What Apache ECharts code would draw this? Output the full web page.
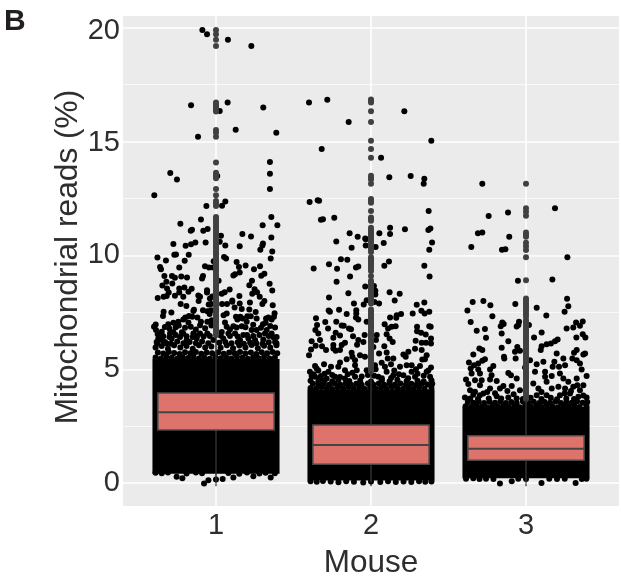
<!DOCTYPE html>
<html>
<head>
<meta charset="utf-8">
<style>
  html, body { margin: 0; padding: 0; background: #fff; }
  #chart { width: 621px; height: 582px; }
</style>
</head>
<body>
<div id="chart"></div>
<script src="https://cdn.jsdelivr.net/npm/echarts@6/dist/echarts.min.js"></script>
<script>
const mice = [1, 2, 3];
const majorTicks = [0, 5, 10, 15, 20];
const minorTicks = [2.5, 7.5, 12.5, 17.5];

// box stats
const whiskerLow = [0.02, 0.03, 0.02];
const q1 = [2.33, 0.83, 1.01];
const median = [3.11, 1.68, 1.51];
const q3 = [3.96, 2.55, 2.08];
const whiskerHigh = [6.42, 4.9, 3.68];

// range where the jittered points overlap into a solid block
const denseLow = [0.42, 0.12, 0.22];
const denseHigh = [5.45, 4.12, 3.36];
const jitterWidth = 0.41;

// [jitter offset, value] for the points that can be told apart
const mouse1Points = [
  [-.088,19.89],[-.058,19.7],[.077,19.46],[.228,19.18],[-.161,16.58],[.075,16.71],[.024,16.33],[.305,16.48],
  [.127,15.51],[.389,15.38],[-.116,15.2],[.348,14.09],[-.295,13.61],[-.252,13.33],[.348,13.58],[.008,13.48],[.348,12.91],
  [-.398,12.64],[-.062,12.16],[.06,12.36],[.039,12.17],[-.097,11.57],[-.23,11.38],[.357,11.68],[.301,11.32],[.396,11.32],
  [-.155,11.12],[-.163,11.08],[-.082,11.08],[-.054,11.15],[.032,10.86],[.17,10.93],[.226,10.83],[.357,10.78],
  [-.275,10.5],[-.196,10.42],[-.161,10.49],[-.133,10.56],[-.067,10.56],[.024,10.59],[.06,10.43],[.153,10.4],[.303,10.52],
  [.299,10.43],[.286,10.24],[.363,10.17],[-.258,10.04],[-.269,10.02],[-.176,10.02],[-.378,9.9],[-.323,9.77],[-.202,9.76],
  [.052,9.93],[.065,9.86],[.353,9.86],[-.015,9.74],[.133,9.71],[-.361,9.49],[-.355,9.39],[-.237,9.47],[-.071,9.52],
  [-.045,9.47],[-.019,9.47],[.148,9.49],[.191,9.55],[.284,9.52],[.245,9.39],[-.333,9.09],[-.284,9.09],[-.265,9.01],
  [-.224,9.07],[-.187,9.03],[-.084,9.09],[-.09,8.98],[.112,9.11],[.123,9.17],[.153,9.25],[.312,9.19],[.292,9.1],
  [.232,8.88],[.215,8.69],[-.32,8.84],[-.346,8.68],[.017,8.88],[-.282,8.76],[.346,8.75],[-.316,8.54],[-.237,8.54],
  [-.204,8.59],[-.157,8.53],[-.178,8.4],[-.058,8.47],[-.058,8.37],[.249,8.51],[.265,8.38],[.363,8.46],[-.305,8.37],
  [-.237,8.37],[.088,8.5],[.056,8.38],[.037,8.31],[.234,8.31],[-.265,8.22],[-.376,8.13],[-.338,8.18],[-.318,8.21],
  [-.211,8.18],[-.114,8.24],[-.103,8.18],[-.112,8.0],[-.024,8.19],[-.039,8.1],[.151,8.21],[.282,8.18],[.312,8.0],
  [.299,7.86],[.105,8.02],[.105,7.96],[.219,7.93],[-.228,7.86],[-.191,7.78],[-.047,7.84],[-.032,7.86],[.039,7.86],
  [.071,7.86],[.12,7.71],[.153,7.89],[.366,7.81],[-.142,7.61],[-.146,7.56],[-.084,7.59],[-.056,7.55],[-.032,7.59],
  [.166,7.64],[.215,7.62],[.256,7.51],[-.338,7.52],[-.342,7.34],[-.288,7.49],[.069,7.45],[.049,7.37],[.378,7.46],
  [.374,7.3],[-.174,7.34],[-.198,7.27],[-.211,7.18],[-.153,7.3],[-.12,7.27],[-.041,7.42],[.129,7.3],[.157,7.3],
  [.138,7.18],[.202,7.33],[.224,7.33],[.17,7.23],[.262,7.23],[.338,7.27],[.323,7.23],[.359,7.18],[.32,7.04],[.303,6.98],
  [-.389,6.96],[-.4,6.86],[-.387,6.72],[-.376,6.54],[-.361,6.47],[-.308,6.98],[-.275,7.04],[-.243,7.08],[-.301,6.79],
  [-.275,6.64],[-.297,6.57],[-.178,7.05],[-.163,6.86],[-.103,6.93],[-.097,7.08],[-.056,7.08],[-.028,7.15],[.058,7.05],
  [.069,6.86],[.112,6.89],[.133,6.83],[.166,6.89],[.198,7.08],[.23,6.72],[.262,6.72],[.327,6.72],[.381,6.83],[.359,6.57],
  [.391,6.42],[.316,6.57],[.037,6.64],[.08,6.57],[.123,6.57],[.176,6.5],[-.146,6.57],[-.103,6.57],[-.056,6.57],[-.211,6.57],
  [-.232,6.42],[-.286,6.35],[-.351,6.28],[-.372,6.35],[-.383,6.2],[-.318,6.13],[-.189,6.28],[-.125,6.35],[-.017,6.28],
  [.047,6.35],[.155,6.28],[.209,6.35],[.252,6.28],[.305,6.31],[.381,6.2],
  [-.39,5.95],[-.35,6.02],[-.31,5.9],[-.27,6.05],[-.23,5.95],[-.19,6.02],[-.15,5.9],[-.11,6.05],[-.07,5.96],[-.03,6.0],
  [.03,5.94],[.07,6.05],[.11,5.92],[.15,6.04],[.19,5.96],[.23,6.06],[.27,5.92],[.31,6.03],[.35,5.95],[.39,6.05],
  [-.254,.28],[-.217,.22],[-.077,-.01],[-.049,.13],[0,.16],[.043,.19],[.112,.25],[.241,.31],[.353,.25],
  [-.39,.46],[-.35,.44],[-.31,.47],[-.19,.43],[-.13,.47],[-.09,.44],[.08,.45],[.15,.42],[.2,.47],[.28,.43],[.32,.46],[.38,.44]
];
const mouse1Crowded = [
  [-.39,5.52],[-.355,5.47],[-.32,5.55],[-.285,5.5],[-.25,5.46],[-.215,5.53],[-.18,5.49],[-.145,5.55],[-.11,5.47],[-.075,5.52],
  [-.04,5.46],[-.005,5.54],[.03,5.48],[.065,5.53],[.1,5.47],[.135,5.55],[.17,5.5],[.205,5.46],[.24,5.53],[.275,5.48],[.31,5.54],
  [.345,5.47],[.38,5.52],
  [-.375,5.74],[-.34,5.69],[-.305,5.76],[-.27,5.71],[-.235,5.67],[-.2,5.75],[-.165,5.7],[-.13,5.76],[-.095,5.68],[-.06,5.74],
  [-.025,5.7],[.015,5.75],[.05,5.68],[.085,5.73],[.12,5.7],[.155,5.76],[.19,5.69],[.225,5.74],[.26,5.67],[.295,5.75],[.33,5.7],
  [.365,5.76],[.395,5.7],
  [-.38,6.12],[-.33,6.2],[-.29,6.12],[-.25,6.22],[-.21,6.14],[-.17,6.2],[-.13,6.14],[-.09,6.22],[-.05,6.14],[.02,6.16],[.06,6.2],
  [.1,6.14],[.14,6.18],[.18,6.12],[.22,6.16],[.26,6.14],[.3,6.12],[.34,6.18],[.39,6.14],
  [-.34,6.45],[-.3,6.42],[-.26,6.5],[-.22,6.62],[-.19,6.45],[-.15,6.42],[-.12,6.48],[-.08,6.44],[-.04,6.46],[.03,6.48],[.09,6.46],
  [.14,6.44],[.2,6.5],[.24,6.46],[.28,6.5],[.34,6.46],[.37,6.4],
  [-.35,6.65],[-.33,6.85],[-.26,6.84],[-.24,6.92],[-.2,6.82],[-.13,6.74],[-.07,6.8],[-.03,6.92],[.09,6.74],[.19,6.84],[.29,6.82],
  [.35,6.9],[.24,6.95]
];
const mouse2Points = [
  [-.4,16.71],[-.282,16.83],[.215,16.32],[-.144,15.85],[.389,15.03],[-.318,14.66],[.065,14.28],[.118,13.42],[.256,13.48],
  [.344,13.36],[.34,13.14],[-.396,12.34],[-.344,12.42],[-.335,12.39],[.372,11.94],[-.323,11.56],[-.31,11.58],[-.237,11.65],
  [.123,11.21],[.219,11.14],[.37,11.11],[.383,11.18],[-.138,10.97],[-.086,10.81],[-.037,10.74],[.054,10.97],[.123,10.93],
  [-.224,10.61],[-.125,10.33],[-.034,10.7],[-.034,10.43],[.082,10.54],[.03,10.36],[.394,10.56],[.376,10.24],[-.194,9.83],
  [-.153,9.8],[-.271,9.61],[-.37,9.42],[-.219,9.41],[-.097,9.47],[-.082,9.51],[.086,9.54],[.116,9.73],[.344,9.54],[.378,9.07],
  [-.222,8.84],[-.135,9.07],[-.037,8.63],[.019,8.65],[.028,8.44],[.028,8.28],[.12,8.38],[.185,8.31],[-.146,8.34],[-.271,8.15],
  [.153,8.02],[-.11,7.89],[-.028,8.03],[-.047,7.84],[.022,7.95],[.052,7.89],[.295,7.83],[.344,7.93],[-.273,7.58],[-.265,7.52],
  [-.206,7.61],[-.157,7.42],[-.095,7.59],[-.095,7.45],[-.097,7.27],[-.082,7.18],[-.028,7.08],[-.355,7.24],[-.295,7.07],
  [-.224,7.08],[-.189,6.92],[-.176,6.91],[-.348,6.94],[-.359,6.72],[-.34,6.57],[-.277,6.79],[-.142,6.79],[-.129,6.75],
  [-.228,6.6],[-.2,6.48],[-.243,6.38],[-.116,6.45],[-.041,6.5],[-.082,6.28],[-.049,6.2],[-.09,6.07],[.037,6.5],[.032,6.28],
  [.123,7.27],[.166,7.37],[.194,7.42],[.163,7.26],[.269,7.45],[.325,7.57],[.346,7.45],[.376,7.52],[.088,6.98],[.11,6.79],
  [.133,6.86],[.159,6.89],[.101,6.54],[.12,6.35],[.14,6.2],[.297,6.86],[.297,6.67],[.323,6.6],[.353,6.53],[.376,6.89],
  [.385,6.86],[.387,6.35],[.387,6.13],[.288,6.25],[.327,6.16],[.355,6.16],[-.383,6.23],[-.329,6.28],[-.357,6.03],[-.387,5.87],
  [-.4,5.62],[-.316,6.01],[-.29,5.84],[-.243,6.06],[-.243,5.91],[-.168,6.16],[-.189,6.06],[-.2,5.84],[-.228,5.81],[.086,6.01],
  [.015,5.98],[.284,5.9],[.327,5.84],[.241,5.77],[.209,5.65],[.224,5.55],[.359,5.62],[.348,5.44],[.331,5.43],[.052,5.69],
  [.101,5.74],[-.125,5.72],[-.071,5.62],[-.039,5.55],[-.12,5.55],[-.157,5.44],[-.103,5.4],[-.2,5.3],[-.211,5.11],[.108,5.47],
  [.144,5.47],[.069,5.28],[.129,5.22],[-.303,5.22],[-.258,5.11],[-.361,5.14],[-.351,5.03],[-.394,4.89],[-.383,4.7],[-.323,4.7],
  [-.275,4.89],[-.232,4.67],[-.168,4.96],[-.103,5.18],[-.092,4.96],[-.028,4.96],[.026,5.18],[.09,5.11],[.047,4.67],[.101,4.89],
  [.144,4.74],[.187,5.11],[.23,5.18],[.262,5.18],[.316,5.14],[.387,5.08],[.359,4.89],[.262,4.89],[.209,4.74],[.284,4.67],
  [.381,4.67],[-.103,4.67],[-.168,4.59],[-.286,4.59],[-.361,4.67],
  [-.39,4.5],[-.34,4.46],[-.3,4.52],[-.25,4.47],[-.21,4.54],[-.14,4.48],[-.07,4.5],[0,4.46],[.07,4.52],[.12,4.47],[.17,4.54],
  [.23,4.48],[.3,4.5],[.34,4.46],[.39,4.52],
  [-.39,.09],[-.35,.06],[-.31,.1],[-.26,.07],[-.21,.04],[-.16,.09],[-.11,.06],[-.05,.03],[0,.08],[.06,.05],[.11,.09],[.16,.05],
  [.21,.08],[.26,.05],[.31,.09],[.35,.06],[.39,.08]
];
const mouse2Crowded = [
  [-.39,4.18],[-.355,4.14],[-.32,4.22],[-.285,4.17],[-.25,4.13],[-.215,4.21],[-.18,4.16],[-.145,4.22],[-.11,4.14],[-.075,4.19],
  [-.04,4.13],[-.005,4.21],[.03,4.15],[.065,4.2],[.1,4.14],[.135,4.22],[.17,4.17],[.205,4.13],[.24,4.2],[.275,4.15],[.31,4.21],
  [.345,4.14],[.39,4.19],
  [-.375,4.36],[-.34,4.33],[-.305,4.38],[-.27,4.32],[-.235,4.37],[-.2,4.33],[-.165,4.38],[-.13,4.32],[-.095,4.36],[-.06,4.32],
  [-.02,4.38],[.015,4.33],[.05,4.37],[.085,4.32],[.12,4.36],[.155,4.33],[.19,4.38],[.225,4.32],[.26,4.36],[.295,4.33],[.33,4.38],
  [.365,4.33],[.395,4.36],
  [-.37,4.78],[-.33,4.58],[-.3,4.8],[-.25,4.75],[-.2,4.66],[-.15,4.78],[-.06,4.68],[-.02,4.75],[.02,4.72],[.07,4.6],[.13,4.62],
  [.18,4.78],[.24,4.6],[.3,4.8],[.34,4.72],[.37,4.95],[-.34,4.95],[-.12,4.85],[.03,5.0],[.15,4.95],[.29,5.0]
];
const mouse3Points = [
  [-.282,13.14],[.187,12.07],[-.116,11.88],[-.241,11.72],[-.31,10.97],[-.282,11.0],[-.108,10.81],[-.353,10.36],[-.155,10.24],
  [-.133,10.27],[.267,9.92],[-.052,8.88],[.17,8.94],[.265,8.09],[-.344,7.95],[-.275,8.0],[-.23,7.81],[-.069,7.86],[.273,7.77],
  [-.378,7.58],[.069,7.7],[.249,7.52],[-.217,7.33],[.131,7.36],[-.357,7.07],[-.153,7.05],[-.144,6.99],[-.163,6.89],[-.045,7.08],
  [-.049,6.94],[-.06,6.88],[.019,6.94],[.323,7.05],[.366,7.1],[.348,6.91],[.305,6.83],[.262,6.79],[-.265,6.77],[-.318,6.69],
  [-.258,6.38],[-.157,6.57],[-.114,6.23],[-.157,5.94],[-.056,5.98],[-.071,5.77],[-.039,5.81],[-.142,5.55],[-.14,5.47],[-.067,5.47],
  [.052,6.39],[.101,6.61],[.101,6.01],[.095,5.84],[.133,6.1],[.161,6.13],[.187,6.23],[.204,6.31],[.325,6.39],[.366,6.54],[.383,6.39],
  [-.301,5.91],[-.282,5.84],[-.34,5.65],[-.265,5.44],[-.282,5.37],[-.308,5.25],[-.368,5.3],[-.335,5.18],[-.357,5.03],[-.308,4.99],
  [-.211,5.14],[-.232,4.99],[-.351,4.81],[-.222,4.74],[-.297,4.81],[-.387,4.55],[-.372,4.35],[-.329,4.52],[-.286,4.52],[-.297,4.3],
  [-.232,4.55],[-.189,4.49],[-.146,4.26],[-.114,4.84],[-.097,4.74],[-.06,4.59],[-.006,5.08],[.026,5.4],[.069,5.22],[.112,5.33],
  [.058,4.89],[.123,4.89],[.123,4.67],[.133,4.45],[.166,4.7],[.198,5.69],[.241,5.47],[.252,5.18],[.213,5.11],[.183,5.33],[.172,5.11],
  [.219,4.81],[.241,4.59],[.273,4.45],[.327,5.84],[.31,5.72],[.299,5.47],[.327,5.4],[.37,5.65],[.381,5.69],[.348,5.25],[.359,4.99],
  [.391,4.7],[.327,4.59],[.37,4.3],[.331,4.3],[-.361,4.08],[-.329,4.01],[-.275,3.94],[-.232,4.16],[-.168,4.16],[-.092,4.26],
  [-.039,4.08],[.047,4.38],[.08,4.16],[.166,4.16],[.209,4.23],[.252,4.16],[.305,4.23],[.348,4.08],[.391,3.76],[-.394,3.76],
  [-.297,3.86],[-.189,3.82],[-.114,3.76],[-.06,3.72],[.069,3.86],[.133,3.86],[.219,3.86],[.284,3.94],[.338,3.79],
  [-.387,.2],[-.34,.22],[-.3,.18],[-.258,.2],[-.21,.18],[-.168,-.01],[-.092,.09],[-.05,.2],[0,.18],[.1,.01],[.15,.2],[.2,.18],
  [.25,.2],[.32,.01],[.36,.19],[.39,.2]
];
const mouse3Crowded = [
  [-.39,3.38],[-.355,3.34],[-.32,3.42],[-.285,3.37],[-.25,3.33],[-.215,3.41],[-.18,3.36],[-.145,3.42],[-.11,3.34],[-.075,3.39],
  [-.04,3.33],[-.005,3.41],[.03,3.35],[.065,3.4],[.1,3.34],[.135,3.42],[.17,3.37],[.205,3.33],[.24,3.4],[.275,3.35],[.31,3.41],
  [.345,3.34],[.39,3.39],
  [-.375,3.56],[-.34,3.53],[-.305,3.58],[-.27,3.52],[-.235,3.57],[-.2,3.53],[-.165,3.58],[-.13,3.52],[-.095,3.56],[-.06,3.52],
  [-.02,3.58],[.015,3.53],[.05,3.57],[.085,3.52],[.12,3.56],[.155,3.53],[.19,3.58],[.225,3.52],[.26,3.56],[.295,3.53],[.33,3.58],
  [.365,3.53],[.395,3.56],
  [-.36,3.72],[-.31,3.7],[-.24,3.72],[-.2,3.95],[-.16,3.72],[-.08,3.9],[-.02,3.7],[.03,3.75],[.1,3.7],[.16,3.75],[.2,3.68],[.26,3.72],
  [.31,3.7],[.37,3.85],[-.34,3.88],[-.25,4.0],[.1,4.0],[.25,3.95],[-.12,4.05],[.29,4.05]
];

// outliers of each box, all drawn on the centre line
const outliers1 = [
  19.89,19.7,19.46,19.18,16.71,16.62,16.55,16.47,16.38,16.31,15.5,15.38,15.2,14.07,13.62,13.55,13.48,13.38,12.91,12.64,12.38,12.27,12.16,
  11.68,11.6,11.5,11.42,11.3,11.22,11.1,11.02,10.93,10.85,10.74,10.66,10.58,10.47,10.4,10.31,10.2,10.12,10.03,9.94,9.82,9.75,9.66,9.55,
  9.47,9.38,9.3,9.18,9.1,9.03,8.92,8.85,8.74,8.66,8.58,8.47,8.38,8.3,8.22,8.11,8.03,7.94,7.85,7.77,7.66,7.58,7.5,7.39,7.31,7.2,7.13,7.04,
  6.95,6.84,6.76,6.68,6.57,6.5
];
const outliers2 = [
  16.84,16.78,16.7,16.32,15.85,15.03,14.66,14.28,13.49,13.4,13.33,13.14,12.47,12.38,12.31,11.94,11.66,11.59,11.52,11.21,11.12,11.03,10.95,
  10.86,10.78,10.69,10.6,10.5,10.41,10.33,10.24,10.15,9.91,9.83,9.75,9.66,9.58,9.49,9.41,9.31,9.09,8.88,8.8,8.7,8.62,8.53,8.44,8.36,8.27,
  8.18,8.08,8.0,7.88,7.62,7.54,7.45,7.36,7.26,7.18,7.1,7.0,6.92,6.83,6.74,6.66,6.57,6.48,6.39,6.3,6.22,6.13,6.04,5.95,5.86,5.77,5.68,5.6,
  5.5,5.42,5.33,5.24,5.15,5.06,4.97,4.9
];
const outliers3 = [
  13.14,12.07,11.91,11.74,11.0,10.89,10.81,10.55,10.4,10.23,9.92,8.91,8.11,8.02,7.92,7.82,7.72,7.62,7.52,7.42,7.3,7.15,7.06,6.97,6.87,6.78,
  6.7,6.6,6.51,6.42,6.33,6.24,6.15,6.05,5.96,5.88,5.78,5.7,5.6,5.51,5.42,5.33,5.23,5.15,5.05,4.96,4.87,4.78,4.69,4.6,4.5,4.41,4.32,4.23,
  4.14,4.05,3.96,3.87,3.78,3.7
];

const textColor = "#2e2e2e";
const tickFont = { fontFamily: "Liberation Sans", fontSize: 29, color: textColor };
const pointSeries = [
  mouse1Points.concat(mouse1Crowded),
  mouse2Points.concat(mouse2Crowded),
  mouse3Points.concat(mouse3Crowded)
];
const outlierSeries = [outliers1, outliers2, outliers3];

const points = [];
pointSeries.forEach((list, i) => {
  list.forEach(p => points.push([mice[i] + p[0], p[1]]));
});
const outlierPoints = [];
outlierSeries.forEach((list, i) => {
  list.forEach(v => outlierPoints.push([mice[i], v]));
});

const chart = echarts.init(document.getElementById("chart"));
chart.setOption({
  animation: false,
  title: {
    text: "B",
    left: 4,
    top: 7,
    padding: 0,
    textStyle: { fontFamily: "Liberation Sans", fontSize: 30, fontWeight: "bold", color: "#231f20" }
  },
  grid: {
    left: 123,
    right: 2,
    top: 16,
    bottom: 76,
    outerBoundsMode: "none",
    show: true,
    backgroundColor: "#ebebeb",
    borderWidth: 0
  },
  xAxis: {
    type: "value",
    min: 0.4,
    max: 3.6,
    name: "Mouse",
    nameLocation: "middle",
    nameGap: 41,
    nameMoveOverlap: false,
    nameTextStyle: { fontFamily: "Liberation Sans", fontSize: 31.5, color: textColor },
    axisLine: { show: false },
    axisTick: { show: true, length: 3, customValues: mice, lineStyle: { color: "#555", width: 1.5 } },
    axisLabel: Object.assign({ customValues: mice, margin: 5 }, tickFont),
    splitLine: { show: true, lineStyle: { color: "#fff", width: 1.5 } }
  },
  yAxis: [
    {
      type: "value",
      min: -1,
      max: 20.5,
      name: "Mitochondrial reads (%)",
      nameLocation: "middle",
      nameGap: 39,
      nameMoveOverlap: false,
      nameTextStyle: {
        fontFamily: "Liberation Sans",
        fontSize: 31.7,
        color: textColor,
        padding: [0, 0, 0, 8]
      },
      axisLine: { show: false },
      axisTick: { show: false, customValues: majorTicks },
      axisLabel: Object.assign({
        customValues: majorTicks,
        margin: 3,
        // the two top labels sit a little under their grid lines in the original
        formatter(v) {
          if (v === 20) return "{top|20}";
          if (v === 15) return "{upper|15}";
          return String(v);
        },
        rich: {
          top: Object.assign({ padding: [8, 0, 0, 0] }, tickFont),
          upper: Object.assign({ padding: [3, 0, 0, 0] }, tickFont)
        }
      }, tickFont),
      splitLine: { show: true, lineStyle: { color: "#fff", width: 1.5 } }
    },
    {
      // only there for the thin grid lines between the labelled ticks
      type: "value",
      min: -1,
      max: 20.5,
      position: "left",
      axisLine: { show: false },
      axisTick: { show: false, customValues: minorTicks },
      axisLabel: { show: false, customValues: minorTicks },
      splitLine: { show: true, lineStyle: { color: "#fff", width: 0.7 } }
    }
  ],
  series: [
    {
      type: "custom",
      z: 2,
      silent: true,
      data: mice.map((m, i) => [m, denseLow[i], denseHigh[i]]),
      renderItem(params, api) {
        const a = api.coord([api.value(0) - jitterWidth, api.value(2)]);
        const b = api.coord([api.value(0) + jitterWidth, api.value(1)]);
        return {
          type: "rect",
          shape: { x: a[0], y: a[1], width: b[0] - a[0], height: b[1] - a[1] },
          style: { fill: "#000" }
        };
      }
    },
    {
      type: "scatter",
      z: 3,
      symbolSize: 6,
      itemStyle: { color: "#000", opacity: 1 },
      data: points
    },
    {
      type: "scatter",
      z: 4,
      symbolSize: 6,
      itemStyle: { color: "#404040", opacity: 1 },
      data: outlierPoints
    },
    {
      type: "custom",
      z: 5,
      silent: true,
      data: mice.map((m, i) => [m, whiskerLow[i], q1[i], median[i], q3[i], whiskerHigh[i]]),
      renderItem(params, api) {
        const x = api.value(0);
        const halfBox = 0.375;
        const lo = api.coord([x, api.value(1)]);
        const boxBottom = api.coord([x - halfBox, api.value(2)]);
        const medianLeft = api.coord([x - halfBox, api.value(3)]);
        const medianRight = api.coord([x + halfBox, api.value(3)]);
        const boxTop = api.coord([x + halfBox, api.value(4)]);
        const hi = api.coord([x, api.value(5)]);
        const whisker = { stroke: "#303030", lineWidth: 1.5 };
        return {
          type: "group",
          children: [
            { type: "line", shape: { x1: lo[0], y1: lo[1], x2: lo[0], y2: boxBottom[1] }, style: whisker },
            { type: "line", shape: { x1: hi[0], y1: hi[1], x2: hi[0], y2: boxTop[1] }, style: whisker },
            {
              type: "rect",
              shape: {
                x: boxBottom[0],
                y: boxTop[1],
                width: boxTop[0] - boxBottom[0],
                height: boxBottom[1] - boxTop[1]
              },
              style: { fill: "#dd736a", stroke: "#4a4a4a", lineWidth: 1.5 }
            },
            {
              type: "line",
              shape: { x1: medianLeft[0], y1: medianLeft[1], x2: medianRight[0], y2: medianRight[1] },
              style: { stroke: "#444", lineWidth: 2 }
            }
          ]
        };
      }
    }
  ]
});
</script>
</body>
</html>
